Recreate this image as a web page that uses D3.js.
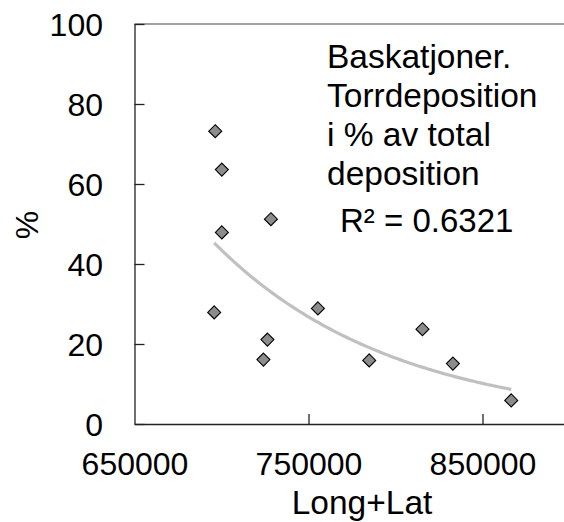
<!DOCTYPE html>
<html>
<head>
<meta charset="utf-8">
<script src="https://cdn.jsdelivr.net/npm/d3@7"></script>
<style>
  body { margin: 0; background: #fff; }
  svg { display: block; font-family: "Liberation Sans", Arial, sans-serif; }
</style>
</head>
<body>
<svg width="564" height="522"></svg>
<script>
// Long+Lat vs dry deposition share (%)
var longLat = [696400, 700200, 728400, 700200, 695800, 726400, 724100, 755400, 784900, 815500, 833000, 866500];
var percent = [73.2, 63.6, 51.2, 47.9, 27.9, 21.1, 16.1, 28.9, 15.9, 23.7, 15.1, 5.9];
var xTicks = [650000, 750000, 850000];
var yTicks = [0, 20, 40, 60, 80, 100];
var noteLines = ["Baskatjoner.", "Torrdeposition", "i % av total", "deposition"];
var r2Label = "R\u00b2 = 0.6321";

var svg = d3.select("svg"),
  margin = {top: 24, left: 134.5, bottom: 98},
  width = 435,
  height = +svg.attr("height") - margin.top - margin.bottom,
  g = svg.append("g")
    .attr("transform", "translate(" + margin.left + "," + margin.top + ")")

var x = d3.scaleLinear().domain([650000, 900000]).range([0, width]);
var y = d3.scaleLinear().domain([0, 100]).range([height, 0]);

// top border of plot area
g.append("line")
  .attr("x1", 0).attr("x2", width)
  .attr("y1", 0).attr("y2", 0)
  .attr("stroke", "#808080")
  .attr("stroke-width", 1.3)

// axes, ticks pointing inward
var yAxis = g.append("g")
  .call(d3.axisLeft(y).tickValues(yTicks).tickSize(-10).tickPadding(31.5).tickSizeOuter(0))
yAxis.select(".domain").attr("stroke", "#222").attr("stroke-width", 1.3)
yAxis.selectAll(".tick line").attr("stroke", "#222").attr("stroke-width", 1.3)
yAxis.selectAll("text")
  .attr("font-size", 32)
  .attr("fill", "#000")
  .attr("dy", "0.36em")

var xAxis = g.append("g")
  .attr("transform", "translate(0," + height + ")")
  .call(d3.axisBottom(x).tickValues(xTicks).tickSize(-10).tickPadding(28.5).tickSizeOuter(0).tickFormat(d3.format("d")))
xAxis.select(".domain").attr("stroke", "#222").attr("stroke-width", 1.3)
xAxis.selectAll(".tick line").attr("stroke", "#222").attr("stroke-width", 1.3)
xAxis.selectAll(".tick:first-of-type line").remove()
xAxis.selectAll("text")
  .attr("font-size", 32)
  .attr("fill", "#000")

// exponential trend line fitted on ln(y), like the spreadsheet does
var mx = d3.mean(longLat),
  ly = percent.map(function(v) { return Math.log(v) }),
  my = d3.mean(ly),
  sxy = d3.sum(longLat, function(v, i) { return (v - mx) * (ly[i] - my) }),
  sxx = d3.sum(longLat, function(v) { return (v - mx) * (v - mx) }),
  b = sxy / sxx,
  a = Math.exp(my - b * mx)

var trendX = d3.range(0, 101).map(function(i) {
  var lo = d3.min(longLat), hi = d3.max(longLat)
  return lo + (hi - lo) * i / 100
})

g.append("path")
  .datum(trendX)
  .attr("fill", "none")
  .attr("stroke", "#c0c0c0")
  .attr("stroke-width", 3.2)
  .attr("d", d3.line()
    .x(function(d) { return x(d) })
    .y(function(d) { return y(a * Math.exp(b * d)) }))

// diamond markers
g.selectAll(".pt")
  .data(longLat)
  .enter().append("path")
  .attr("class", "pt")
  .attr("transform", function(d, i) { return "translate(" + x(d) + "," + y(percent[i]) + ")" })
  .attr("d", "M0,-6.5L6.5,0L0,6.5L-6.5,0Z")
  .attr("fill", "#8c8c8c")
  .attr("stroke", "#000")
  .attr("stroke-width", 1.1)

// annotation
var note = svg.append("text")
  .attr("x", 327)
  .attr("y", 68)
  .attr("font-size", 33.5)
  .attr("fill", "#000")
note.selectAll("tspan")
  .data(noteLines)
  .enter().append("tspan")
  .attr("x", 327)
  .attr("dy", function(d, i) { return i == 0 ? 0 : 39 })
  .text(function(d) { return d })

svg.append("text")
  .attr("x", 340)
  .attr("y", 232)
  .attr("font-size", 33)
  .attr("fill", "#000")
  .text(r2Label)

// axis titles
svg.append("text")
  .attr("transform", "translate(38,225) rotate(-90)")
  .attr("text-anchor", "middle")
  .attr("font-size", 32)
  .attr("fill", "#000")
  .text("%")

svg.append("text")
  .attr("x", 362)
  .attr("y", 514)
  .attr("text-anchor", "middle")
  .attr("font-size", 33.5)
  .attr("fill", "#000")
  .text("Long+Lat")
</script>
</body>
</html>
